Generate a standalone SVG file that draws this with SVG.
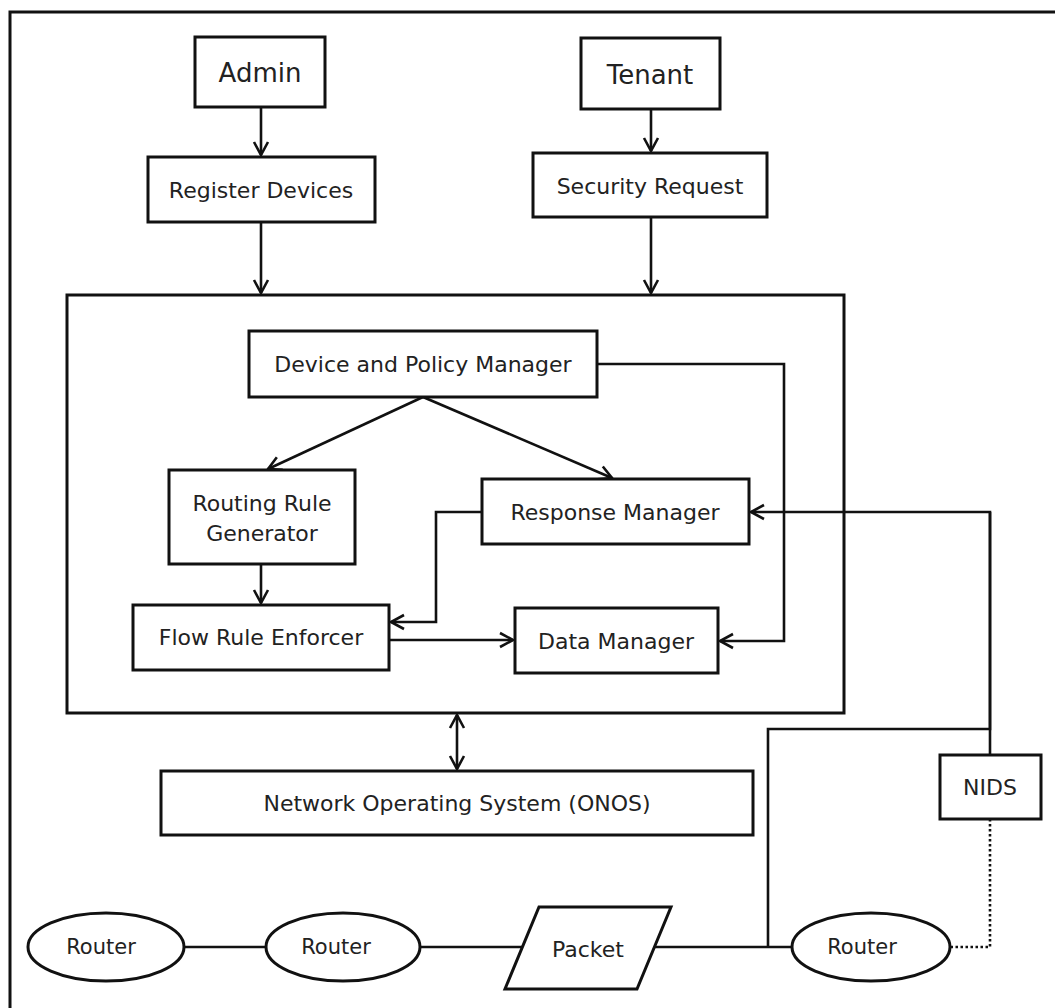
<svg xmlns="http://www.w3.org/2000/svg" width="1055" height="1008" viewBox="0 0 1055 1008">
<defs>
<style>
.box{fill:#fff;stroke:#111;stroke-width:3}
.frame{fill:none;stroke:#111;stroke-width:3}
.ln{fill:none;stroke:#111;stroke-width:2.6}
.t{font-family:"DejaVu Sans",Verdana,sans-serif;font-size:22px;fill:#222;text-anchor:middle;dominant-baseline:central}
.tb{font-size:26px}
.tr{font-size:21px}
</style>
<marker id="arr" markerUnits="userSpaceOnUse" markerWidth="18" markerHeight="18" viewBox="0 0 18 18" refX="15" refY="9" orient="auto-start-reverse">
<path d="M2,2 L15,9 L2,16" fill="none" stroke="#111" stroke-width="2.6"/>
</marker>
</defs>
<rect x="10" y="12" width="1070" height="1020" fill="#fff" stroke="#111" stroke-width="3"/>

<g id="main-container"><rect class="frame" x="67" y="295" width="777" height="418"/></g>

<g id="connectors">
<path class="ln" d="M261,107 V155" marker-end="url(#arr)"/>
<path class="ln" d="M261,222 V293" marker-end="url(#arr)"/>
<path class="ln" d="M651,109 V151" marker-end="url(#arr)"/>
<path class="ln" d="M651,217 V293" marker-end="url(#arr)"/>
<path class="ln" d="M423,397 L268,469" marker-end="url(#arr)"/>
<path class="ln" d="M423,397 L612,478" marker-end="url(#arr)"/>
<path class="ln" d="M261,564 V603" marker-end="url(#arr)"/>
<path class="ln" d="M482,512 H436 V622 H391" marker-end="url(#arr)"/>
<path class="ln" d="M389,640 H513" marker-end="url(#arr)"/>
<path class="ln" d="M597,364 H784 V641 H720" marker-end="url(#arr)"/>
<path class="ln" d="M990,755 V512 H751" marker-end="url(#arr)"/>
<path class="ln" d="M768,947 V729 H990 V512" stroke-width="2.8"/>
<path class="ln" d="M457,715 V769" marker-start="url(#arr)" marker-end="url(#arr)"/>
<path class="ln" d="M184,947 H267"/>
<path class="ln" d="M420,947 H522"/>
<path class="ln" d="M655,947 H792"/>
<path class="ln" d="M990,819 V947 H950" stroke-dasharray="2.5,2.5"/>
</g>

<g id="admin"><rect class="box" x="195" y="37" width="130" height="70"/><text class="t tb" x="260" y="73">Admin</text></g>
<g id="register-devices"><rect class="box" x="148" y="157" width="227" height="65"/><text class="t" x="261" y="190">Register Devices</text></g>
<g id="tenant"><rect class="box" x="581" y="38" width="139" height="71"/><text class="t tb" x="650" y="75">Tenant</text></g>
<g id="security-request"><rect class="box" x="533" y="153" width="234" height="64"/><text class="t" x="650" y="186">Security Request</text></g>
<g id="device-policy-manager"><rect class="box" x="249" y="331" width="348" height="66"/><text class="t" x="423" y="364">Device and Policy Manager</text></g>
<g id="routing-rule-generator"><rect class="box" x="169" y="470" width="186" height="94"/><text class="t" x="262" y="503">Routing Rule</text><text class="t" x="262" y="533">Generator</text></g>
<g id="response-manager"><rect class="box" x="482" y="479" width="267" height="65"/><text class="t" x="615" y="512">Response Manager</text></g>
<g id="flow-rule-enforcer"><rect class="box" x="133" y="605" width="256" height="65"/><text class="t" x="261" y="637">Flow Rule Enforcer</text></g>
<g id="data-manager"><rect class="box" x="515" y="608" width="203" height="65"/><text class="t" x="616" y="641">Data Manager</text></g>
<g id="nos"><rect class="box" x="161" y="771" width="592" height="64"/><text class="t" x="457" y="803">Network Operating System (ONOS)</text></g>
<g id="nids"><rect class="box" x="940" y="755" width="101" height="64"/><text class="t" x="990" y="787">NIDS</text></g>
<g id="router1"><ellipse class="box" cx="106" cy="947" rx="78" ry="34"/><text class="t tr" x="101" y="947">Router</text></g>
<g id="router2"><ellipse class="box" cx="343" cy="947" rx="77" ry="34"/><text class="t tr" x="336" y="947">Router</text></g>
<g id="packet"><polygon class="box" points="539,907 671,907 637,989 505,989"/><text class="t" x="588" y="949">Packet</text></g>
<g id="router3"><ellipse class="box" cx="871" cy="947" rx="79" ry="34"/><text class="t tr" x="862" y="947">Router</text></g>
</svg>
